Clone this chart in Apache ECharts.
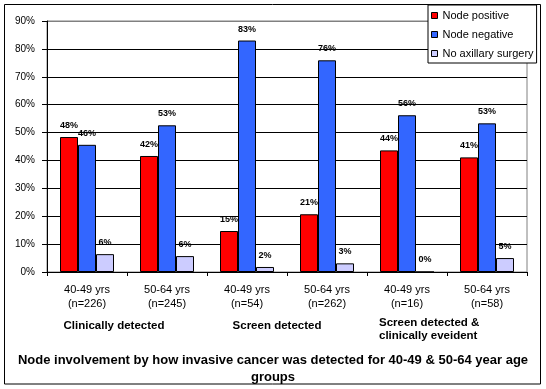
<!DOCTYPE html>
<html>
<head>
<meta charset="utf-8">
<script src="https://cdn.jsdelivr.net/npm/echarts@6/dist/echarts.min.js"></script>
<style>
html,body{margin:0;padding:0;background:#fff;}
#chart{width:546px;height:389px;}
</style>
</head>
<body>
<div id="chart"></div>
<script>
const categories = ['40-49 yrs\n(n=226)', '50-64 yrs\n(n=245)', '40-49 yrs\n(n=54)', '50-64 yrs\n(n=262)', '40-49 yrs\n(n=16)', '50-64 yrs\n(n=58)'];
const nodePositive = [48.4, 41.6, 14.7, 20.7, 43.6, 41.1];
const nodeNegative = [45.6, 52.6, 83.0, 75.9, 56.2, 53.3];
const noAxillary = [6.4, 5.7, 1.8, 3.1, 0, 5.0];
const seriesNames = ['Node positive', 'Node negative', 'No axillary surgery'];
const groupLabels = ['Clinically detected', 'Screen detected', 'Screen detected &\nclinically eveident'];
const titleText = 'Node involvement by how invasive cancer was detected for 40-49 & 50-64 year age\ngroups';

const FONT = 'Liberation Sans, Arial, sans-serif';
const chart = echarts.init(document.getElementById('chart'));

function barSeries(name, data, color) {
  return {
    name: name,
    type: 'bar',
    data: data,
    barGap: '0%',
    barCategoryGap: '32.5%',
    itemStyle: { color: color, borderColor: '#000', borderWidth: 1 },
    label: {
      show: true, position: 'top', distance: 7,
      formatter: p => Math.round(p.value) + '%',
      fontFamily: FONT, fontSize: 9, fontWeight: 'bold', color: '#000'
    }
  };
}

const splitColors = ['#000','#000','#000','#000','#000','#000','#000','#000','#000','#808080'];

chart.setOption({
  animation: false,
  backgroundColor: '#fff',
  textStyle: { fontFamily: FONT },
  title: {
    text: titleText,
    left: 'center',
    top: 347,
    textStyle: { fontFamily: FONT, fontSize: 13, fontWeight: 'bold', color: '#000', lineHeight: 17 }
  },
  legend: {
    left: 428, top: 5,
    orient: 'vertical',
    backgroundColor: '#fff',
    borderColor: '#000', borderWidth: 1,
    padding: [4, 3, 3, 3],
    itemGap: 6,
    itemWidth: 6, itemHeight: 6,
    icon: 'rect',
    itemStyle: { borderColor: '#000', borderWidth: 1 },
    textStyle: { fontFamily: FONT, fontSize: 11, color: '#000', lineHeight: 13 },
    data: seriesNames
  },
  grid: {
    left: 47, right: 19, top: 21, bottom: 117,
    show: true, borderColor: '#808080', borderWidth: 1,
    containLabel: false
  },
  xAxis: {
    type: 'category',
    data: categories,
    axisLine: { lineStyle: { color: '#000', width: 1 } },
    axisTick: { show: true, length: 4, lineStyle: { color: '#000' } },
    axisLabel: { interval: 0, fontFamily: FONT, fontSize: 11, lineHeight: 14, margin: 11, color: '#000' }
  },
  yAxis: {
    type: 'value',
    min: 0, max: 90, interval: 10,
    axisLine: { show: true, lineStyle: { color: '#000', width: 1 } },
    axisTick: { show: true, length: 5, lineStyle: { color: '#000' } },
    axisLabel: { formatter: '{value}%', fontFamily: FONT, fontSize: 10, margin: 12, color: '#000' },
    splitLine: { show: true, lineStyle: { color: splitColors, width: 1 } }
  },
  series: [
    barSeries(seriesNames[0], nodePositive, '#FF0000'),
    barSeries(seriesNames[1], nodeNegative, '#3366FF'),
    barSeries(seriesNames[2], noAxillary, '#CCCCFF')
  ],
  graphic: [
    { type: 'rect', z: -1, silent: true,
      shape: { x: 4.5, y: 4.5, width: 536, height: 379.5 },
      style: { fill: null, stroke: '#000', lineWidth: 1 } },
    { type: 'text', x: 114, y: 326,
      style: { text: groupLabels[0], font: 'bold 11.5px ' + FONT, fill: '#000', textAlign: 'center', textVerticalAlign: 'middle' } },
    { type: 'text', x: 277, y: 326,
      style: { text: groupLabels[1], font: 'bold 11.5px ' + FONT, fill: '#000', textAlign: 'center', textVerticalAlign: 'middle' } },
    { type: 'text', x: 379, y: 316,
      style: { text: groupLabels[2], font: 'bold 11.5px ' + FONT, fill: '#000', textAlign: 'left', lineHeight: 13.5 } }
  ]
});
</script>
</body>
</html>
